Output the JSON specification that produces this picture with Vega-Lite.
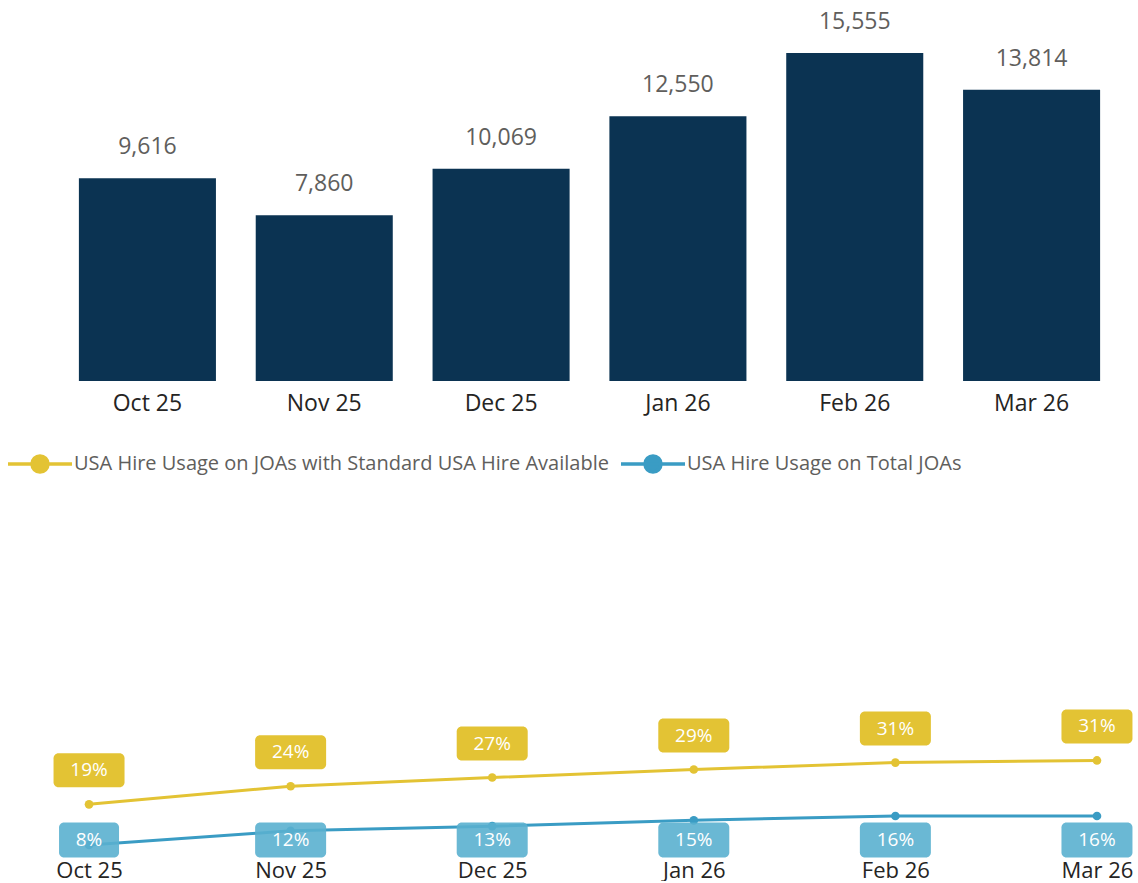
{
  "$schema": "https://vega.github.io/schema/vega-lite/v6.json",
  "padding": {"left": 6, "top": 11, "right": 0, "bottom": 0},
  "config": {"font": "Segoe UI, Open Sans, sans-serif", "view": {"stroke": null}},
  "datasets": {
    "bars": [
      {"month": "Oct 25", "count": 9616},
      {"month": "Nov 25", "count": 7860},
      {"month": "Dec 25", "count": 10069},
      {"month": "Jan 26", "count": 12550},
      {"month": "Feb 26", "count": 15555},
      {"month": "Mar 26", "count": 13814}
    ],
    "lines": [
      {"month": "Oct 25", "series": "USA Hire Usage on JOAs with Standard USA Hire Available", "value": 0.192},
      {"month": "Nov 25", "series": "USA Hire Usage on JOAs with Standard USA Hire Available", "value": 0.242},
      {"month": "Dec 25", "series": "USA Hire Usage on JOAs with Standard USA Hire Available", "value": 0.266},
      {"month": "Jan 26", "series": "USA Hire Usage on JOAs with Standard USA Hire Available", "value": 0.288},
      {"month": "Feb 26", "series": "USA Hire Usage on JOAs with Standard USA Hire Available", "value": 0.307},
      {"month": "Mar 26", "series": "USA Hire Usage on JOAs with Standard USA Hire Available", "value": 0.313},
      {"month": "Oct 25", "series": "USA Hire Usage on Total JOAs", "value": 0.080},
      {"month": "Nov 25", "series": "USA Hire Usage on Total JOAs", "value": 0.119},
      {"month": "Dec 25", "series": "USA Hire Usage on Total JOAs", "value": 0.132},
      {"month": "Jan 26", "series": "USA Hire Usage on Total JOAs", "value": 0.148},
      {"month": "Feb 26", "series": "USA Hire Usage on Total JOAs", "value": 0.160},
      {"month": "Mar 26", "series": "USA Hire Usage on Total JOAs", "value": 0.160}
    ]
  },
  "spacing": 12,
  "vconcat": [
    {
      "width": 1061,
      "height": 328,
      "data": {"name": "bars"},
      "encoding": {
        "x": {
          "field": "month", "type": "ordinal",
          "sort": ["Oct 25", "Nov 25", "Dec 25", "Jan 26", "Feb 26", "Mar 26"],
          "scale": {"paddingInner": 0.225, "paddingOuter": 0.1125},
          "axis": {"title": null, "domain": false, "ticks": false, "labelAngle": 0, "labelFontSize": 23, "labelColor": "#252423", "labelPadding": 11}
        },
        "y": {"field": "count", "type": "quantitative", "scale": {"domain": [0, 15555], "nice": false}, "axis": null}
      },
      "layer": [
        {"mark": {"type": "bar", "color": "#0B3352"}},
        {
          "mark": {"type": "text", "baseline": "middle", "dy": -31, "fontSize": 23, "color": "#605E5C"},
          "encoding": {"text": {"field": "count", "type": "quantitative", "format": ",d"}}
        }
      ]
    },
    {
      "width": 1068,
      "height": 430,
      "data": {"name": "lines"},
      "encoding": {
        "x": {
          "field": "month", "type": "ordinal",
          "sort": ["Oct 25", "Nov 25", "Dec 25", "Jan 26", "Feb 26", "Mar 26"],
          "scale": {"type": "point", "padding": 0.149},
          "axis": {"title": null, "domain": false, "ticks": false, "labelAngle": 0, "labelFontSize": 22, "labelColor": "#252423", "labelPadding": 3, "labelOverlap": false, "labelBound": false}
        },
        "y": {"field": "value", "type": "quantitative", "scale": {"domain": [0.047, 1.2316], "nice": false, "zero": false}, "axis": null}
      },
      "layer": [
        {
          "mark": {"type": "line", "strokeWidth": 3},
          "encoding": {
            "color": {
              "field": "series", "type": "nominal",
              "scale": {
                "domain": ["USA Hire Usage on JOAs with Standard USA Hire Available", "USA Hire Usage on Total JOAs"],
                "range": ["#E3C334", "#3A9CC4"]
              },
              "legend": {
                "orient": "none", "legendX": -53, "legendY": 377, "direction": "horizontal", "title": null,
                "symbolType": "M-1,0L1,0M0.25,0A0.25,0.25,0,1,1,-0.25,0A0.25,0.25,0,1,1,0.25,0Z",
                "symbolSize": 4096, "symbolStrokeWidth": 3.5,
                "labelFontSize": 20, "labelColor": "#605E5C", "labelOffset": 0, "labelLimit": 800, "columnPadding": 5,
                "encode": {"symbols": {"update": {"fill": {"scale": "color", "field": "value"}, "stroke": {"scale": "color", "field": "value"}, "opacity": {"value": 1}}}}
              }
            }
          }
        },
        {
          "mark": {"type": "point", "filled": true, "size": 75, "opacity": 1},
          "encoding": {"color": {"field": "series", "type": "nominal"}}
        },
        {
          "transform": [{"filter": "datum.series == 'USA Hire Usage on JOAs with Standard USA Hire Available'"}],
          "mark": {"type": "rect", "width": 71, "height": 34, "yOffset": -34, "cornerRadius": 5, "color": "#E3C334"}
        },
        {
          "transform": [{"filter": "datum.series == 'USA Hire Usage on JOAs with Standard USA Hire Available'"}],
          "mark": {"type": "text", "baseline": "middle", "dy": -34, "fontSize": 19, "color": "white"},
          "encoding": {"text": {"field": "value", "type": "quantitative", "format": ".0%"}}
        },
        {
          "transform": [{"filter": "datum.series == 'USA Hire Usage on Total JOAs' && datum.value >= 0.1"}],
          "mark": {"type": "rect", "width": 71, "height": 35, "cornerRadius": 5, "color": "#5AB0CF", "opacity": 0.9},
          "encoding": {"y": {"datum": 0.094}}
        },
        {
          "transform": [{"filter": "datum.series == 'USA Hire Usage on Total JOAs' && datum.value < 0.1"}],
          "mark": {"type": "rect", "width": 60, "height": 35, "cornerRadius": 5, "color": "#5AB0CF", "opacity": 0.9},
          "encoding": {"y": {"datum": 0.094}}
        },
        {
          "transform": [{"filter": "datum.series == 'USA Hire Usage on Total JOAs'"}],
          "mark": {"type": "text", "baseline": "middle", "fontSize": 19, "color": "white"},
          "encoding": {"y": {"datum": 0.094}, "text": {"field": "value", "type": "quantitative", "format": ".0%"}}
        }
      ]
    }
  ]
}
